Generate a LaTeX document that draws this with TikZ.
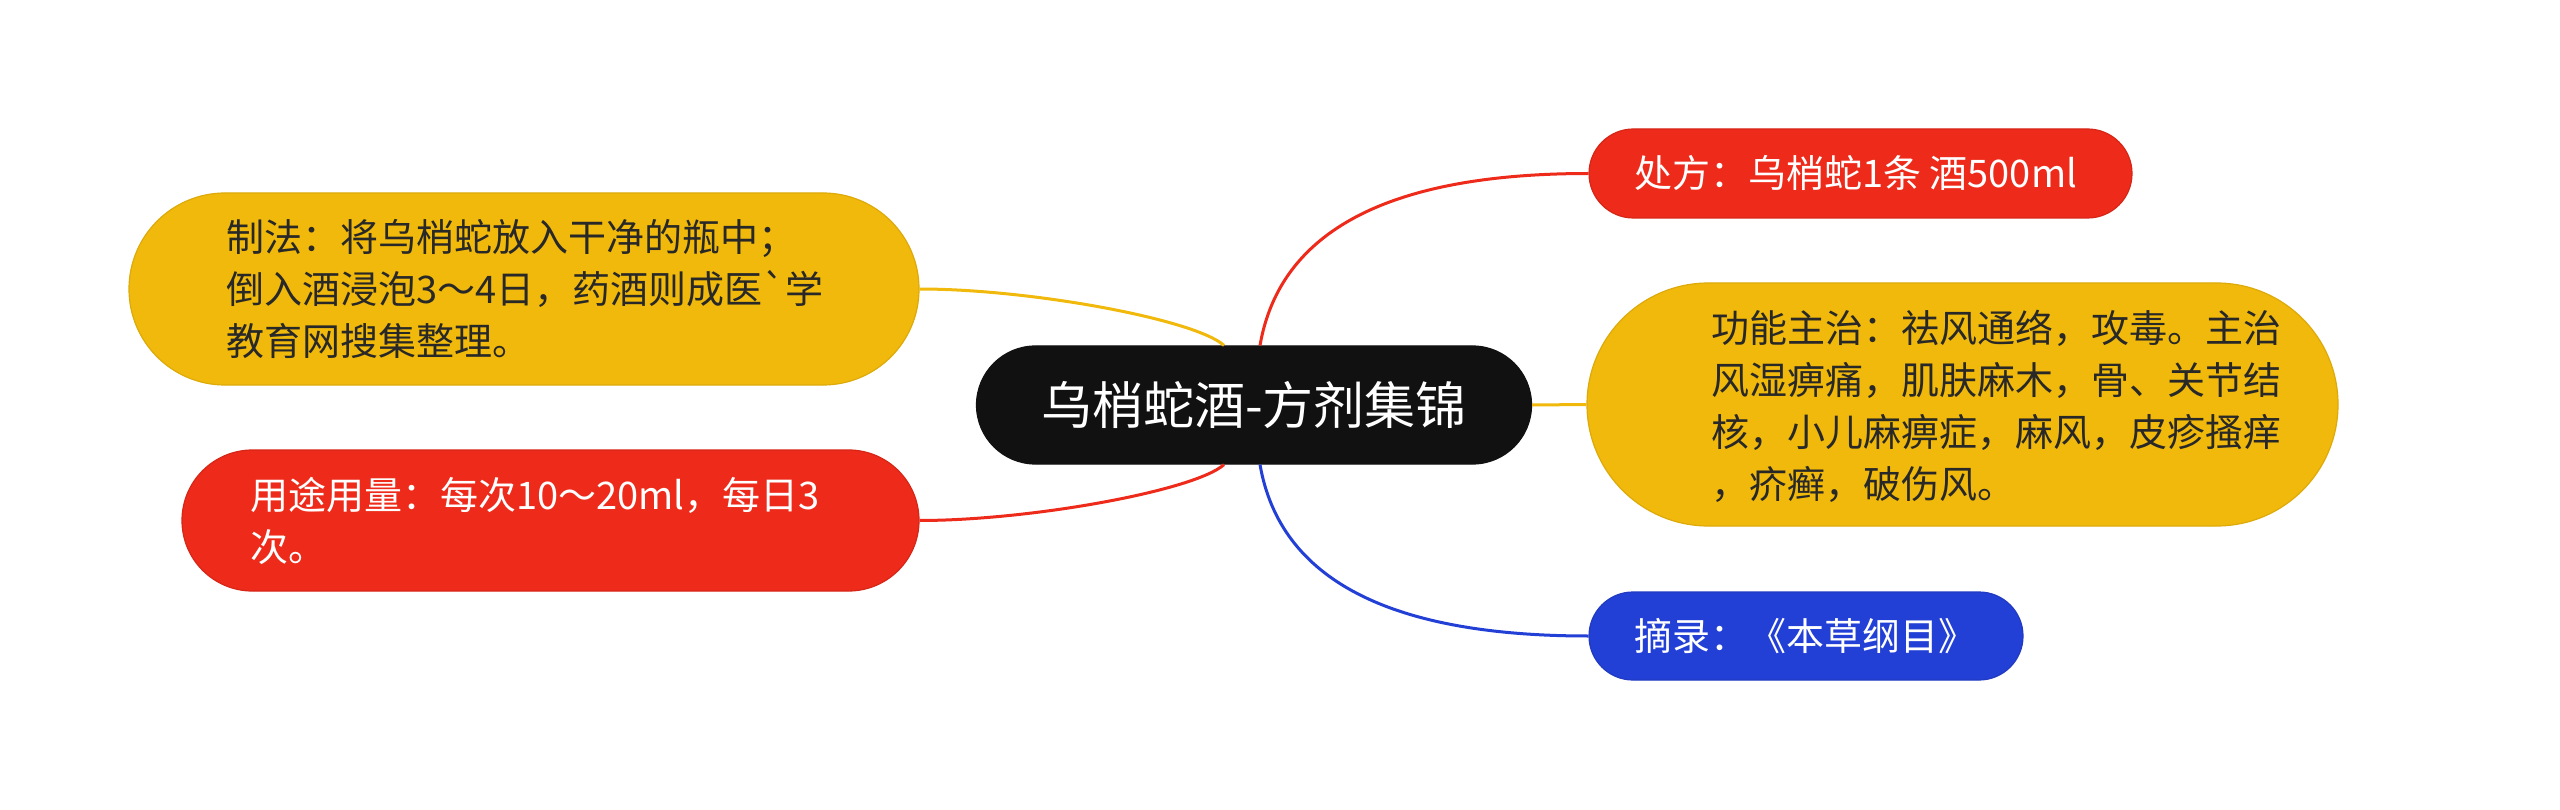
\documentclass[tikz,border=0pt]{standalone}
\usepackage{fontspec}
\setmainfont{Noto Sans CJK SC}[Ligatures=TeXOff]
\usetikzlibrary{calc}
\definecolor{cyel}{RGB}{240,185,11}
\definecolor{cred}{RGB}{238,42,26}
\definecolor{cblue}{RGB}{35,64,214}
\definecolor{cblack}{RGB}{17,17,17}
\definecolor{cdark}{RGB}{40,40,40}
\tikzset{
  box/.style={inner sep=0pt, line width=1.2pt},
  txt/.style={inner sep=0pt, anchor=west, align=left, font=\fontsize{38pt}{52pt}\selectfont},
  conn/.style={line width=3pt},
}
\begin{document}
\begin{tikzpicture}[x=1pt,y=-1pt]
\useasboundingbox[fill=white] (0,0) rectangle (2560,810);
% centre
\node[box, fill=cblack, draw=cblack, minimum width=555pt, minimum height=118pt, rounded corners=59pt,
      text=white, font=\fontsize{51pt}{60pt}\selectfont] (c) at (1254,405) {乌梢蛇酒-方剂集锦};
% boxes
\node[box, fill=cred, draw=cred!90!black, minimum width=543pt, minimum height=89pt, rounded corners=44.5pt] (b1) at (1860.5,173.5) {};
\node[box, fill=cyel, draw=cyel!92!black, minimum width=751pt, minimum height=243pt, rounded corners=121.5pt] (b2) at (1962.5,404.5) {};
\node[box, fill=cblue, draw=cblue!90!black, minimum width=434pt, minimum height=88pt, rounded corners=44pt] (b3) at (1806,636) {};
\node[box, fill=cyel, draw=cyel!92!black, minimum width=790pt, minimum height=192pt, rounded corners=96pt] (b4) at (524,289) {};
\node[box, fill=cred, draw=cred!90!black, minimum width=737pt, minimum height=141pt, rounded corners=70.5pt] (b5) at (550.5,520.5) {};
% texts
\node[txt, text=white] (t1) at (1634,173) {处方：乌梢蛇1条 酒500ml};
\node[txt, text=cdark] (t2) at (1711,406) {功能主治：祛风通络，攻毒。主治\\风湿痹痛，肌肤麻木，骨、关节结\\核，小儿麻痹症，麻风，皮疹搔痒\\，疥癣，破伤风。};
\node[txt, text=white] (t3) at (1634,636) {摘录：《本草纲目》};
\node[txt, text=cdark] (t4) at (226,289) {制法：将乌梢蛇放入干净的瓶中；\\倒入酒浸泡3～4日，药酒则成医\char96学\\教育网搜集整理。};
\node[txt, text=white] (t5) at (250,521) {用途用量：每次10～20ml，每日3\\次。};
% connectors
\draw[conn, cred] ($(c.north)+(6,0)$) .. controls +(20,-115) and +(-199,0) .. (b1.west);
\draw[conn, cblue] ($(c.south)+(6,0)$) .. controls +(20,115) and +(-199,0) .. (b3.west);
\draw[conn, cyel] (c.east) -- (b2.west);
\draw[conn, cyel] ($(c.north)+(-30,0)$) .. controls +(-29,-26) and +(111,0) .. (b4.east);
\draw[conn, cred] ($(c.south)+(-30,0)$) .. controls +(-29,26) and +(111,0) .. (b5.east);
\end{tikzpicture}
\end{document}
